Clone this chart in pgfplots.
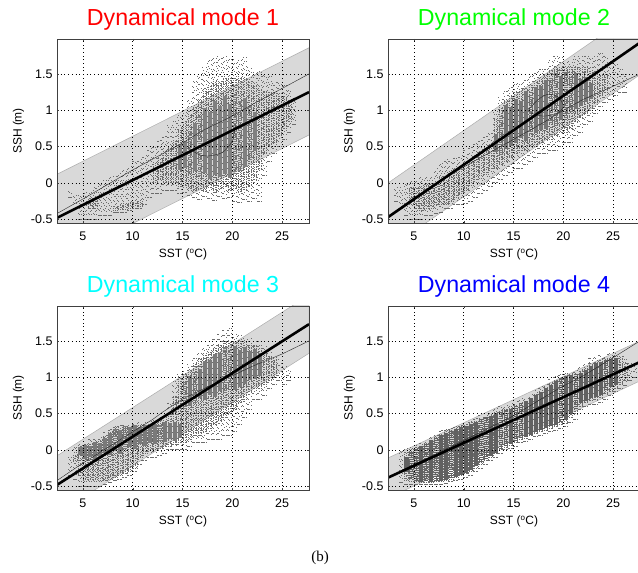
\documentclass[border=0pt]{standalone}
\usepackage{fontspec}
\setmainfont{Liberation Sans}
\newfontfamily\capfont{Liberation Serif}
\usepackage{pgfplots}
\usepackage{pgfplotstable}
\pgfplotsset{compat=1.18}

\definecolor{bandfill}{gray}{0.85}
\definecolor{bandedge}{gray}{0.68}
\definecolor{dots}{gray}{0.42}
\definecolor{coreA}{gray}{0.5}
\definecolor{coreB}{gray}{0.46}
\definecolor{coreC}{gray}{0.48}
\definecolor{coreD}{gray}{0.38}
\definecolor{modeA}{rgb}{1,0,0}
\definecolor{modeB}{rgb}{0,1,0}
\definecolor{modeC}{rgb}{0,1,1}
\definecolor{modeD}{rgb}{0,0,1}

% columns of the point cloud: x, sparse, medium and dense range, 9 9 = none
\pgfplotstableread{
x slo shi mlo mhi clo chi
3.5 -0.2 -0.1 9 9 9 9
4 -0.35 -0.15 9 9 9 9
4.5 -0.5 -0.15 9 9 9 9
5 -0.5 -0.1 9 9 9 9
5.5 -0.5 -0.1 -0.35 -0.2 9 9
6 -0.5 -0.05 -0.35 -0.2 9 9
6.5 -0.45 0 9 9 9 9
7 -0.45 0.05 9 9 9 9
7.5 -0.45 0.1 9 9 9 9
8 -0.4 0.1 -0.38 -0.32 9 9
8.5 -0.4 0.15 -0.37 -0.3 9 9
9 -0.4 0.2 -0.36 -0.28 9 9
9.5 -0.38 0.25 -0.35 -0.27 9 9
10 -0.35 0.3 -0.35 -0.25 9 9
10.5 -0.35 0.35 -0.33 -0.25 9 9
11 -0.3 0.4 9 9 9 9
11.5 -0.2 0.5 9 9 9 9
12 -0.15 0.5 0 0.3 9 9
12.5 -0.15 0.6 0.05 0.35 9 9
13 -0.1 0.65 0 0.45 9 9
13.5 -0.1 0.8 0 0.5 9 9
14 -0.1 0.85 0 0.6 0.23 0.38
14.5 -0.15 0.95 -0.05 0.75 0.18 0.53
15 -0.13 1 -0.03 0.85 0.21 0.58
15.5 -0.17 1.15 -0.08 0.95 0.12 0.71
16 -0.2 1.4 -0.11 1.05 0.17 0.83
16.5 -0.23 1.5 -0.07 1.15 0.09 0.92
17 -0.18 1.6 -0.12 1.3 0.14 1.03
17.5 -0.21 1.7 -0.06 1.35 0.06 0.97
18 -0.24 1.72 -0.13 1.4 0.11 1.13
18.5 -0.19 1.75 -0.08 1.4 0.08 1.06
19 -0.22 1.75 -0.05 1.45 0.13 1.19
19.5 -0.2 1.7 -0.11 1.45 0.07 1.09
20 -0.25 1.7 -0.07 1.45 0.12 1.22
20.5 -0.27 1.72 -0.12 1.45 0.16 1.13
21 -0.23 1.75 -0.09 1.45 0.22 1.17
21.5 -0.26 1.6 -0.04 1.4 0.31 1.06
22 -0.21 1.55 0.05 1.35 0.44 0.98
22.5 -0.25 1.55 0.2 1.3 9 9
23 0.1 1.5 0.4 1.25 9 9
23.5 0.3 1.5 0.5 1.25 9 9
24 0.4 1.4 0.55 1.25 9 9
24.5 0.5 1.4 0.65 1.2 9 9
25 0.6 1.35 0.75 1.2 9 9
25.5 0.7 1.3 0.85 1.15 9 9
26 0.8 1.2 9 9 9 9
}\cloudA

\pgfplotstableread{
x slo shi mlo mhi clo chi
3 -0.25 -0.05 9 9 9 9
3.5 -0.35 -0.05 9 9 9 9
4 -0.45 0 9 9 9 9
4.5 -0.5 0.05 -0.3 -0.05 9 9
5 -0.5 0.05 -0.35 -0.05 9 9
5.5 -0.5 0.1 -0.38 -0.02 9 9
6 -0.45 0.1 -0.35 0 9 9
6.5 -0.45 0.1 -0.35 0 9 9
7 -0.42 0.2 -0.3 0 9 9
7.5 -0.4 0.3 -0.3 0.1 9 9
8 -0.35 0.33 -0.3 0.05 9 9
8.5 -0.35 0.3 -0.25 0.1 9 9
9 -0.3 0.35 -0.2 0.15 9 9
9.5 -0.3 0.4 -0.15 0.2 9 9
10 -0.28 0.45 -0.1 0.25 9 9
10.5 -0.25 0.5 0 0.3 9 9
11 -0.2 0.55 0.05 0.4 9 9
11.5 -0.15 0.6 0.1 0.45 9 9
12 -0.1 0.65 0.15 0.5 9 9
12.5 -0.05 0.7 0.2 0.55 9 9
13 0 1 0.2 0.9 0.43 0.68
13.5 0.05 1.2 0.25 1.05 0.38 0.93
14 0.1 1.3 0.3 1.15 0.47 1.07
14.5 0.15 1.35 0.35 1.2 0.51 1.04
15 0.2 1.4 0.4 1.25 0.55 1.16
15.5 0.2 1.4 0.45 1.3 0.62 1.13
16 0.25 1.45 0.45 1.3 0.58 1.26
16.5 0.3 1.5 0.5 1.35 0.67 1.21
17 0.35 1.55 0.5 1.4 0.69 1.32
17.5 0.4 1.6 0.55 1.45 0.73 1.33
18 0.4 1.6 0.6 1.5 0.74 1.42
18.5 0.45 1.7 0.6 1.55 0.82 1.44
19 0.45 1.75 0.65 1.6 0.78 1.52
19.5 0.5 1.75 0.7 1.6 0.87 1.47
20 0.55 1.7 0.7 1.6 0.89 1.53
20.5 0.55 1.7 0.75 1.6 0.97 1.46
21 0.65 1.75 0.85 1.6 1.02 1.51
21.5 0.7 1.75 0.9 1.6 1.06 1.43
22 0.8 1.75 0.95 1.6 1.12 1.46
22.5 0.85 1.75 1 1.55 1.16 1.38
23 0.95 1.75 1.1 1.55 9 9
23.5 1.05 1.8 1.2 1.5 9 9
24 1.1 1.75 1.25 1.5 9 9
24.5 1.15 1.7 9 9 9 9
25 1.2 1.65 9 9 9 9
25.5 1.25 1.6 9 9 9 9
26 1.25 1.5 9 9 9 9
}\cloudB

\pgfplotstableread{
x slo shi mlo mhi clo chi
3.5 -0.35 -0.1 9 9 9 9
4 -0.4 0.05 -0.15 -0.05 9 9
4.5 -0.5 0.1 -0.35 0.08 -0.07 0.04
5 -0.5 0.1 -0.4 0.08 -0.12 0.07
5.5 -0.5 0.15 -0.4 0.1 -0.09 0.05
6 -0.5 0.15 -0.4 0.12 -0.16 0.11
6.5 -0.5 0.2 -0.42 0.15 -0.11 0.09
7 -0.48 0.25 -0.42 0.2 -0.04 0.17
7.5 -0.45 0.3 -0.4 0.27 -0.07 0.24
8 -0.42 0.33 -0.38 0.3 -0.02 0.29
8.5 -0.4 0.35 -0.35 0.32 -0.05 0.27
9 -0.38 0.35 -0.33 0.33 0.01 0.33
9.5 -0.35 0.36 -0.3 0.34 0.04 0.31
10 -0.3 0.36 -0.25 0.34 0.02 0.34
10.5 -0.2 0.38 -0.1 0.35 0.08 0.32
11 -0.15 0.38 -0.05 0.35 0.06 0.35
11.5 -0.1 0.4 0 0.37 0.1 0.33
12 -0.1 0.42 0 0.38 0.08 0.36
12.5 -0.08 0.45 0.02 0.4 0.12 0.35
13 -0.05 0.48 0.05 0.42 0.11 0.39
13.5 0 0.65 0.05 0.5 0.15 0.37
14 0 0.95 0.08 0.75 0.13 0.39
14.5 0 1.05 0.1 1 0.17 0.36
15 0 1.1 0.1 1.05 0.56 0.93
15.5 0.05 1.2 0.15 1.1 0.61 1.02
16 0.1 1.3 0.2 1.2 0.64 1.07
16.5 0.1 1.35 0.2 1.25 0.72 1.11
17 0.1 1.4 0.25 1.3 0.69 1.22
17.5 0.15 1.45 0.3 1.35 0.76 1.24
18 0.15 1.55 0.35 1.4 0.73 1.32
18.5 0.15 1.6 0.4 1.45 0.81 1.34
19 0.2 1.65 0.45 1.5 0.78 1.42
19.5 0.2 1.7 0.5 1.5 0.86 1.38
20 0.25 1.6 0.55 1.5 0.83 1.43
20.5 0.35 1.6 0.65 1.5 0.87 1.37
21 0.45 1.55 0.7 1.5 0.91 1.41
21.5 0.55 1.55 0.8 1.45 0.96 1.36
22 0.7 1.5 0.85 1.45 0.98 1.39
22.5 0.7 1.5 0.85 1.4 1.02 1.33
23 0.75 1.45 0.9 1.35 9 9
23.5 0.85 1.4 0.95 1.3 9 9
24 0.9 1.3 1 1.25 9 9
24.5 0.95 1.25 9 9 9 9
25 0.9 1.15 9 9 9 9
25.5 0.95 1.1 9 9 9 9
}\cloudC

\pgfplotstableread{
x slo shi mlo mhi clo chi
3.5 -0.45 0 9 9 9 9
4 -0.47 0.03 -0.42 -0.02 -0.3 -0.1
4.5 -0.47 0.05 -0.43 0.02 -0.39 -0.03
5 -0.47 0.08 -0.44 0.04 -0.43 0.02
5.5 -0.48 0.1 -0.45 0.06 -0.44 0.06
6 -0.48 0.13 -0.45 0.1 -0.43 0.09
6.5 -0.48 0.18 -0.45 0.14 -0.44 0.14
7 -0.47 0.25 -0.44 0.2 -0.43 0.17
7.5 -0.47 0.27 -0.43 0.22 -0.42 0.2
8 -0.46 0.3 -0.42 0.26 -0.41 0.24
8.5 -0.44 0.32 -0.4 0.28 -0.39 0.27
9 -0.42 0.35 -0.38 0.3 -0.37 0.29
9.5 -0.4 0.37 -0.35 0.33 -0.34 0.32
10 -0.38 0.38 -0.33 0.34 -0.31 0.33
10.5 -0.35 0.42 -0.3 0.38 -0.27 0.36
11 -0.3 0.45 -0.25 0.4 -0.22 0.39
11.5 -0.25 0.48 -0.2 0.44 -0.17 0.43
12 -0.2 0.5 -0.15 0.46 -0.13 0.45
12.5 -0.15 0.52 -0.1 0.48 -0.08 0.47
13 -0.1 0.58 -0.05 0.52 -0.04 0.51
13.5 -0.05 0.6 0 0.55 0.01 0.53
14 0 0.62 0.03 0.57 0.05 0.55
14.5 0.02 0.65 0.06 0.6 0.08 0.57
15 0.05 0.68 0.1 0.62 0.12 0.6
15.5 0.1 0.72 0.14 0.65 0.16 0.64
16 0.12 0.72 0.16 0.68 0.18 0.67
16.5 0.15 0.78 0.2 0.72 0.21 0.71
17 0.18 0.82 0.22 0.77 0.25 0.75
17.5 0.2 0.88 0.25 0.82 0.28 0.8
18 0.22 0.92 0.27 0.87 0.3 0.85
18.5 0.25 0.98 0.3 0.92 0.33 0.9
19 0.27 1.05 0.32 0.97 0.35 0.95
19.5 0.3 1.08 0.35 1 0.38 0.99
20 0.32 1.1 0.37 1.03 0.41 1.02
20.5 0.38 1.1 0.45 1.05 0.5 1.03
21 0.42 1.1 0.5 1.05 0.56 1.04
21.5 0.55 1.15 0.6 1.1 0.65 1.06
22 0.6 1.2 0.65 1.15 0.68 1.1
22.5 0.62 1.27 0.68 1.2 0.72 1.15
23 0.62 1.28 0.7 1.22 0.73 1.19
23.5 0.65 1.3 0.72 1.25 0.76 1.21
24 0.7 1.32 0.77 1.27 0.82 1.24
24.5 0.75 1.33 0.8 1.28 0.87 1.25
25 0.8 1.35 0.85 1.3 0.9 1.26
25.5 0.85 1.33 0.9 1.27 9 9
26 0.88 1.3 0.95 1.2 9 9
26.5 0.95 1.2 9 9 9 9
27 1 1.15 9 9 9 9
}\cloudD

% one layer: table, lo column, hi column, x shift, line style
\newcommand{\cloudlayer}[5]{
\addplot[forget plot, draw=none, mark=none,
  error bars/.cd, y dir=plus, y explicit, error mark=none,
  error bar style={solid, draw=dots, #5}]
  table[x expr=\thisrow{x}+#4, y=#2, y error plus expr=\thisrow{#3}-\thisrow{#2}] {#1};
}
% table, tone of the dense part
\newcommand{\cloud}[2]{
\cloudlayer{#1}{slo}{shi}{0}{line width=0.55pt, dash pattern=on 0.55pt off 5.3pt}
\cloudlayer{#1}{slo}{shi}{0.1}{line width=0.55pt, dash pattern=on 0.55pt off 4.7pt}
\cloudlayer{#1}{slo}{shi}{0.23}{line width=0.55pt, dash pattern=on 0.55pt off 7.1pt}
\cloudlayer{#1}{slo}{shi}{0.37}{line width=0.55pt, dash pattern=on 0.55pt off 3.9pt}
\cloudlayer{#1}{mlo}{mhi}{0.08}{line width=0.55pt, dash pattern=on 0.55pt off 1.3pt}
\cloudlayer{#1}{mlo}{mhi}{0.25}{line width=0.55pt, dash pattern=on 0.55pt off 1.9pt}
\cloudlayer{#1}{mlo}{mhi}{0.42}{line width=0.55pt, dash pattern=on 0.55pt off 1.1pt}
\cloudlayer{#1}{clo}{chi}{0.25}{draw=#2, line width=4.2pt, dash pattern=on 1.7pt off 0.3pt}
}

\pgfplotsset{
  sshpanel/.style={
    at={(#1)}, anchor=south west,
    scale only axis, width=252pt, height=184pt,
    xmin=2.4, xmax=27.7, ymin=-0.55, ymax=1.98,
    xtick={5,10,15,20,25},
    ytick={-0.5,0,0.5,1,1.5},
    yticklabels={-0.5,0,0.5,1,1.5},
    /pgf/number format/assume math mode=true,
    grid=major,
    grid style={black, line width=0.6pt, dash pattern=on 0.8pt off 2.9pt},
    axis on top,
    axis line style={line width=0.7pt, black!75},
    tick style={black!75, line width=0.4pt},
    tick align=inside, major tick length=2pt,
    ticklabel style={font=\fontsize{12.5}{14}\selectfont},
    xticklabel style={yshift=-5pt},
    yticklabel style={xshift=-1pt},
    label style={font=\fontsize{12}{14}\selectfont},
    xlabel={SST (\textsuperscript{o}C)},
    ylabel={SSH (m)},
    xlabel style={yshift=-2pt},
    ylabel style={yshift=0pt},
    title style={font=\fontsize{23.2}{27}\selectfont, yshift=-1pt},
  },
  band/.style={fill=bandfill, draw=bandedge, line width=0.5pt, forget plot},
  thinfit/.style={black!85, line width=0.4pt, forget plot},
  thickfit/.style={black, line width=2.6pt, forget plot},
}

\begin{document}
\begin{tikzpicture}
\path[use as bounding box, clip] (0pt,0pt) rectangle (638pt,573pt);

\begin{axis}[sshpanel={57pt,350pt}, title={Dynamical mode 1}, title style={text=modeA}]
\addplot[band] coordinates {(2.4,0.12) (27.7,1.86) (27.7,0.66) (2.4,-1.08)} -- cycle;
\cloud{\cloudA}{coreA}
\addplot[thinfit] coordinates {(2.4,-0.42) (5,-0.22) (10,0.18) (15,0.55) (17,0.72) (20,0.92) (22,1.08) (25,1.3) (27.7,1.5)};
\addplot[thinfit, smooth] coordinates {(15.5,0.5) (16.5,0.4) (17.5,0.37) (19,0.42) (20,0.58) (20.3,0.8)};
\addplot[thickfit] coordinates {(2.4,-0.48) (27.7,1.25)};
\end{axis}

\begin{axis}[sshpanel={388pt,350pt}, title={Dynamical mode 2}, title style={text=modeB}]
\addplot[band] coordinates {(2.4,0) (27.7,2.4) (27.7,1.49) (2.4,-0.91)} -- cycle;
\cloud{\cloudB}{coreB}
\addplot[thinfit] coordinates {(2.4,-0.47) (5,-0.2) (10,0.22) (15,0.6) (18,0.83) (20,1) (22,1.15) (25,1.33) (27.7,1.5)};
\addplot[thinfit, smooth cycle] coordinates {(16.5,1) (17.5,1.15) (18.5,1.22) (19.5,1.18) (20,1.05) (19.3,0.95) (18,0.92) (17,0.95)};
\addplot[thickfit] coordinates {(2.4,-0.47) (27.7,1.93)};
\end{axis}

\begin{axis}[sshpanel={57pt,83pt}, title={Dynamical mode 3}, title style={text=modeC}]
\addplot[band] coordinates {(2.4,-0.08) (27.7,2.13) (27.7,1.33) (2.4,-0.88)} -- cycle;
\cloud{\cloudC}{coreC}
\addplot[thinfit] coordinates {(2.4,-0.42) (5,-0.18) (10,0.25) (12,0.42) (13,0.52) (15,0.7) (18,0.9) (20,1.02) (22,1.15) (25,1.32) (27.7,1.5)};
\addplot[thickfit] coordinates {(2.4,-0.48) (27.7,1.73)};
\end{axis}

\begin{axis}[sshpanel={388pt,83pt}, title={Dynamical mode 4}, title style={text=modeD}]
\addplot[band] coordinates {(2.4,-0.11) (27.7,1.5) (27.7,0.95) (2.4,-0.66)} -- cycle;
\cloud{\cloudD}{coreD}
\addplot[thinfit] coordinates {(2.4,-0.38) (5,-0.2) (10,0.13) (15,0.47) (18,0.72) (20,0.88) (22,1.02) (25,1.27) (27.7,1.5)};
\addplot[thickfit] coordinates {(2.4,-0.38) (27.7,1.21)};
\end{axis}

\node[font=\capfont\fontsize{15}{17}\selectfont] at (320pt,15pt) {(b)};
\end{tikzpicture}
\end{document}
